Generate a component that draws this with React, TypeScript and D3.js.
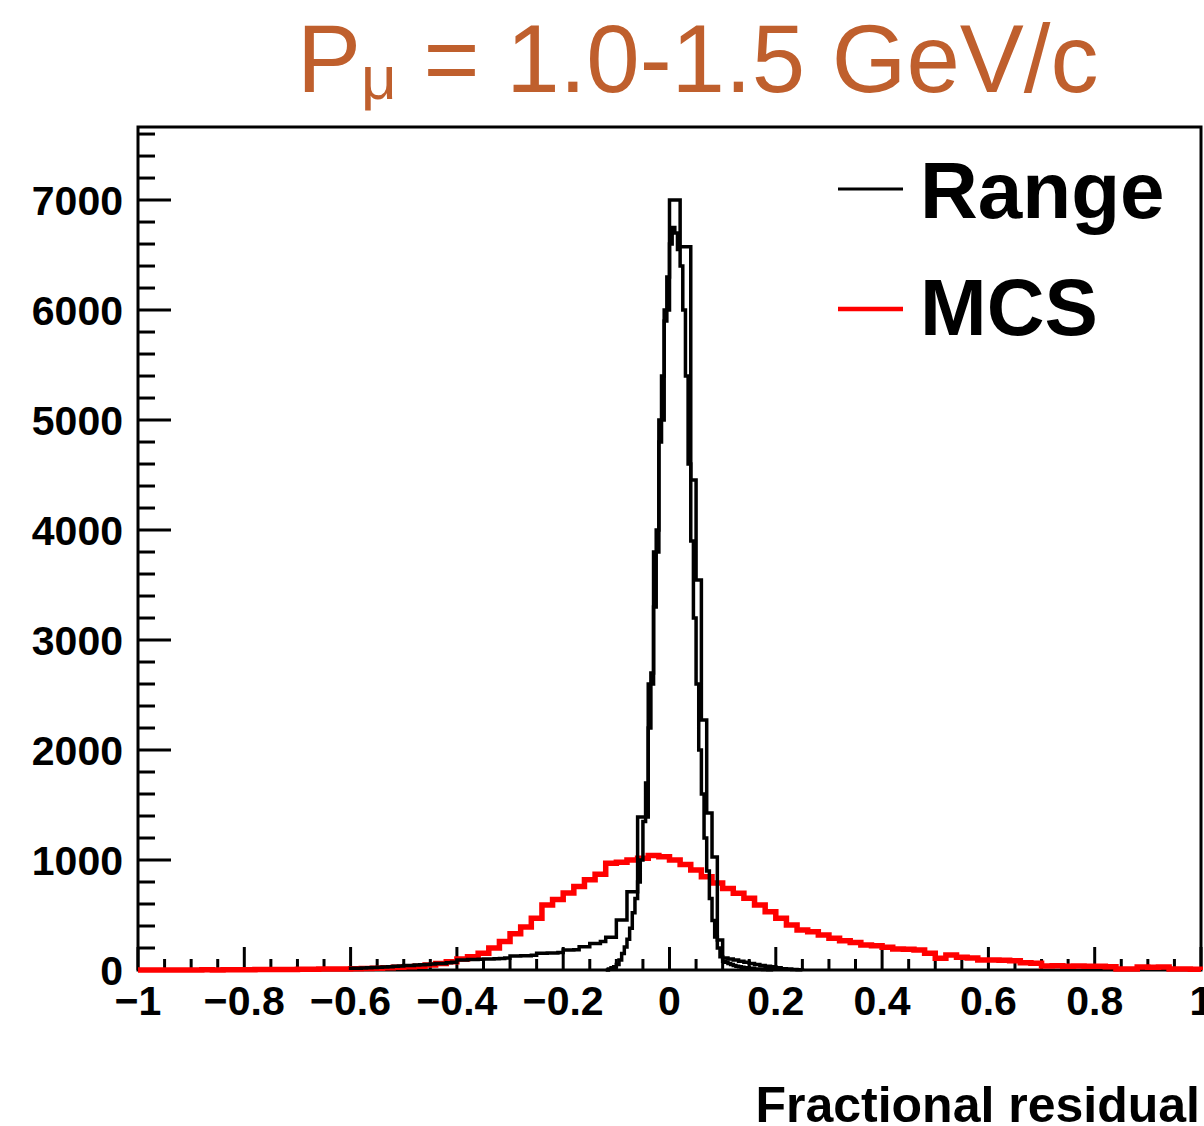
import React from "react";
import * as d3 from "d3";

// ---------- data ----------
const titleMain = "P";
const titleSub = "μ";
const titleRest = " = 1.0-1.5 GeV/c";
const xTitle = "Fractional residual";
const legendLabels = ["Range", "MCS"];

// x axis ticks (value/5)
const xMajorIdx = d3.range(-5, 6);
const xMinorStep = 0.05;
const yMajorTicks = [0, 1000, 2000, 3000, 4000, 5000, 6000, 7000];
const yMinorStep = 200;
const yMax = 7664;

// Range (narrow component), bin width 0.005 starting at -0.12
const rangeNarrowStart = -0.12;
const rangeNarrowWidth = 0.005;
const rangeNarrow = [
  0, 10, 20, 30, 50, 90, 150, 210, 280, 380, 520, 650, 800, 1000, 1350, 1700,
  2200, 2700, 3300, 4000, 4800, 5400, 5900, 6300,
  6600, 6750, 6700, 6550, 6400, 6000, 5400, 4600, 3900, 3200, 2600, 2000, 1600,
  1200, 900, 650, 450, 300, 200, 120, 80,
  70, 60, 50, 40, 35, 30, 25, 20, 20, 15, 15, 10, 10, 8, 5, 5, 3, 2,
];

// Range (with tail), bin width 0.01 starting at -0.6
const rangeTailStart = -0.6;
const rangeTailWidth = 0.01;
const rangeTail = [
  15, 16, 18, 20, 22, 25, 28, 30, 33, 36,
  40, 42, 45, 48, 50, 55, 58, 60, 65, 70,
  90, 92, 95, 95, 98, 100, 100, 102, 105, 110,
  127, 127, 130, 130, 135, 152, 152, 155, 155, 160,
  182, 182, 185, 212, 212, 242, 242, 260, 297, 297,
  455, 455, 712, 712, 1390, 1390, 2600, 3800, 5000, 6000,
  7000, 7000, 6576, 6576, 4454, 3545, 2272, 1427, 1027, 272,
  110, 100, 90, 80, 70, 60, 50, 40, 35, 30,
  20, 12, 8, 5, 3,
];

// MCS, bin width 0.02 starting at -1
const mcsStart = -1;
const mcsWidth = 0.02;
const mcs = [
  0, 0, 1, 0, 1, 1, 2, 1, 2, 3, 3, 4, 4, 5, 5, 6, 7, 8, 9, 10,
  12, 14, 17, 20, 25, 30, 35, 45, 60, 76,
  100, 121, 152, 200, 260, 330, 390, 470, 590, 640,
  700, 760, 820, 870, 970, 980, 1000, 1015, 1040, 1030,
  1000, 960, 910, 848, 790, 742, 697, 652, 591, 530,
  470, 409, 364, 348, 318, 288, 265, 250, 227, 220,
  206, 192, 188, 182, 152, 106, 136, 115, 110, 91,
  91, 88, 85, 67, 62, 36, 38, 34, 36, 33,
  35, 30, 9, 10, 27, 25, 28, 9, 8, 7,
];

// ---------- layout ----------
const W = 1204;
const H = 1126;
const left = 138;
const right = 1201;
const top = 127;
const bottom = 970;
const FONT = "'Liberation Sans', Arial, Helvetica, sans-serif";
const titleColor = "#BF5F2D";

const x = d3.scaleLinear().domain([-1, 1]).range([left, right]);
const y = d3.scaleLinear().domain([0, yMax]).range([bottom, top]);

function histPoints(start: number, width: number, vals: number[]): [number, number][] {
  const pts: [number, number][] = [[x(start), y(0)]];
  vals.forEach((v, i) => {
    pts.push([x(start + i * width), y(v)]);
    pts.push([x(start + (i + 1) * width), y(v)]);
  });
  pts.push([x(start + vals.length * width), y(0)]);
  return pts;
}

const line = d3.line<[number, number]>();

const fmtX = (i: number) => {
  if (i === 0) return "0";
  const v = Math.abs(i) / 5;
  const s = v === 1 ? "1" : v.toFixed(1);
  return i < 0 ? "\u2212" + s : s;
};

export default function App() {
  const xMinor = d3.range(-1, 1.0001, xMinorStep).filter(
    (v) => Math.abs(Math.round(v * 5) - v * 5) > 1e-6
  );
  const yMinor = d3.range(0, yMax, yMinorStep).filter((v) => v % 1000 !== 0);

  return (
    <svg
      width={W}
      height={H}
      style={{ position: "absolute", left: 0, top: 0, background: "#fff" }}
      xmlns="http://www.w3.org/2000/svg"
    >
      <rect x={0} y={0} width={W} height={H} fill="#fff" />
      <defs>
        <clipPath id="plotclip">
          <rect x={left - 2} y={top} width={right - left + 4} height={bottom - top + 3} />
        </clipPath>
      </defs>

      {/* title */}
      <text x={297} y={92} fontFamily={FONT} fontSize={96} fill={titleColor}>
        {titleMain}
        <tspan fontSize={62} dy={6.5}>{titleSub}</tspan>
        <tspan dy={-6.5}>{titleRest}</tspan>
      </text>

      {/* frame */}
      <rect
        x={left}
        y={top}
        width={right - left}
        height={bottom - top}
        fill="none"
        stroke="#000"
        strokeWidth={3}
      />

      {/* y ticks */}
      {yMajorTicks.map((t) => (
        <line key={"ym" + t} x1={left} x2={left + 33} y1={y(t)} y2={y(t)} stroke="#000" strokeWidth={3} />
      ))}
      {yMinor.map((t) => (
        <line key={"yn" + t} x1={left} x2={left + 17} y1={y(t)} y2={y(t)} stroke="#000" strokeWidth={3} />
      ))}
      {yMajorTicks.map((t) => (
        <text
          key={"yl" + t}
          x={123}
          y={y(t) + 15}
          textAnchor="end"
          fontFamily={FONT}
          fontWeight="bold"
          fontSize={41}
          fill="#000"
        >
          {t}
        </text>
      ))}

      {/* x ticks */}
      {xMajorIdx.map((i) => (
        <line key={"xm" + i} x1={x(i / 5)} x2={x(i / 5)} y1={bottom} y2={bottom - 23} stroke="#000" strokeWidth={3} />
      ))}
      {xMinor.map((v, k) => (
        <line key={"xn" + k} x1={x(v)} x2={x(v)} y1={bottom} y2={bottom - 11} stroke="#000" strokeWidth={3} />
      ))}
      {xMajorIdx.map((i) => (
        <text
          key={"xl" + i}
          x={x(i / 5)}
          y={1015}
          textAnchor="middle"
          fontFamily={FONT}
          fontWeight="bold"
          fontSize={41}
          fill="#000"
        >
          {fmtX(i)}
        </text>
      ))}

      {/* histograms */}
      <g clipPath="url(#plotclip)" fill="none" strokeLinejoin="miter">
        <path d={line(histPoints(mcsStart, mcsWidth, mcs)) || ""} stroke="#ff0000" strokeWidth={5.5} />
        <path d={line(histPoints(rangeTailStart, rangeTailWidth, rangeTail)) || ""} stroke="#000" strokeWidth={3.5} />
        <path d={line(histPoints(rangeNarrowStart, rangeNarrowWidth, rangeNarrow)) || ""} stroke="#000" strokeWidth={3.5} />
      </g>

      {/* x title */}
      <text
        x={1200}
        y={1122}
        textAnchor="end"
        fontFamily={FONT}
        fontWeight="bold"
        fontSize={50}
        fill="#000"
      >
        {xTitle}
      </text>

      {/* legend */}
      <line x1={838} x2={903} y1={189} y2={189} stroke="#000" strokeWidth={3} />
      <text x={920} y={218} fontFamily={FONT} fontWeight="bold" fontSize={80} fill="#000">
        {legendLabels[0]}
      </text>
      <line x1={838} x2={903} y1={309} y2={309} stroke="#ff0000" strokeWidth={4.5} />
      <text x={920} y={335} fontFamily={FONT} fontWeight="bold" fontSize={80} fill="#000">
        {legendLabels[1]}
      </text>
    </svg>
  );
}
